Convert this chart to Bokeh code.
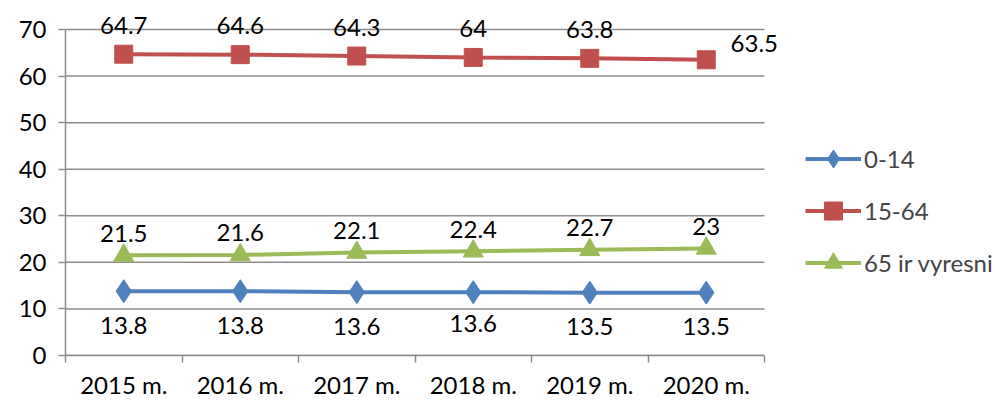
from bokeh.plotting import figure
from bokeh.models import FixedTicker, Range1d, Legend, LegendItem, ColumnDataSource
from bokeh.core.properties import value
from bokeh.embed import file_html
from bokeh.resources import INLINE

years = ["2015 m.", "2016 m.", "2017 m.", "2018 m.", "2019 m.", "2020 m."]
s0_14 = [13.8, 13.8, 13.6, 13.6, 13.5, 13.5]
s15_64 = [64.7, 64.6, 64.3, 64.0, 63.8, 63.5]
s65 = [21.5, 21.6, 22.1, 22.4, 22.7, 23.0]
names = ["0-14", "15-64", "65 ir vyresni"]
y_ticks = [0, 10, 20, 30, 40, 50, 60, 70]

FONT = "Lato"
BLUE, RED, GREEN = "#4F81BD", "#C0504D", "#9BBB59"
GRID = "#8C8C8C"

n = len(years)
x = [i + 0.5 for i in range(n)]
YMAX = 70

# layout (pixels)
W, H = 995, 401
left, bottom = 65, 46
px_per_cat = 116.5
px_per_y = 326 / YMAX
fw, fh = W - left, H - bottom
x_end = fw / px_per_cat
y_end = fh / px_per_y

p = figure(width=W, height=H, output_backend="svg", toolbar_location=None,
           x_range=Range1d(0, x_end), y_range=Range1d(0, y_end),
           min_border_left=left, min_border_right=0, min_border_top=0, min_border_bottom=bottom)
p.outline_line_color = None
p.background_fill_color = "white"

# grid lines drawn only across the category span
p.xgrid.grid_line_color = None
p.ygrid.grid_line_color = None
p.segment(x0=[0] * len(y_ticks), x1=[n] * len(y_ticks), y0=y_ticks, y1=y_ticks,
          line_color=GRID, line_width=1.5)

# axes
p.xaxis.bounds = (0, n)
p.xaxis.ticker = FixedTicker(ticks=x, minor_ticks=list(range(n + 1)))
p.xaxis.major_label_overrides = {xi: lab for xi, lab in zip(x, years)}
p.xaxis.major_tick_line_color = None
p.xaxis.major_tick_out = 0
p.xaxis.major_tick_in = 0
p.xaxis.minor_tick_out = 7
p.xaxis.minor_tick_in = 0
p.xaxis.minor_tick_line_color = GRID
p.xaxis.minor_tick_line_width = 1.5
p.xaxis.major_label_standoff = 7
p.yaxis.bounds = (0, YMAX)
p.yaxis.ticker = FixedTicker(ticks=y_ticks)
p.yaxis.major_tick_out = 7
p.yaxis.major_tick_in = 0
p.yaxis.minor_tick_line_color = None
p.yaxis.major_tick_line_color = GRID
p.yaxis.major_tick_line_width = 1.5
p.yaxis.major_label_standoff = 12
for ax in (p.xaxis, p.yaxis):
    ax.axis_line_color = GRID
    ax.axis_line_width = 1.5
    ax.major_label_text_font = FONT
    ax.major_label_text_font_size = "24px"
    ax.major_label_text_color = "black"

l0 = p.line(x, s0_14, line_color=BLUE, line_width=4)
m0 = p.scatter(x, s0_14, marker="diamond", size=23, fill_color=BLUE, line_color=BLUE)
l1 = p.line(x, s15_64, line_color=RED, line_width=4)
m1 = p.scatter(x, s15_64, marker="square", size=18, fill_color=RED, line_color=RED)
l2 = p.line(x, s65, line_color=GREEN, line_width=4)
m2 = p.scatter(x, s65, marker="triangle", size=20, fill_color=GREEN, line_color=GREEN)

def lab(v):
    return "%g" % v

txt = dict(text_align="center", text_baseline="middle", text_font=value(FONT),
           text_font_size="24px", text_color="black")
src0 = ColumnDataSource(dict(x=x, y=s0_14, t=[lab(v) for v in s0_14],
                             yo=[34, 34, 34, 31, 34, 34]))
p.text(x="x", y="y", text="t", source=src0, y_offset="yo", **txt)
src1 = ColumnDataSource(dict(x=x, y=s15_64, t=[lab(v) for v in s15_64],
                             xo=[0, 0, 0, 0, 0, 48], yo=[-29, -29, -29, -29, -29, -16]))
p.text(x="x", y="y", text="t", source=src1, x_offset="xo", y_offset="yo", **txt)
src2 = ColumnDataSource(dict(x=x, y=s65, t=[lab(v) for v in s65]))
p.text(x="x", y="y", text="t", source=src2, y_offset=-22, **txt)

legend = Legend(items=[LegendItem(label=names[0], renderers=[l0, m0]),
                       LegendItem(label=names[1], renderers=[l1, m1]),
                       LegendItem(label=names[2], renderers=[l2, m2])],
                location=(740, 70))
legend.border_line_color = None
legend.background_fill_alpha = 0
legend.padding = 0
legend.margin = 0
legend.spacing = 7
legend.glyph_width = 56
legend.glyph_height = 45
legend.label_standoff = 3
legend.label_text_font = FONT
legend.label_text_font_size = "24px"
legend.label_height = 26
p.add_layout(legend, "center")

open("out.html", "w").write(file_html(p, INLINE))
